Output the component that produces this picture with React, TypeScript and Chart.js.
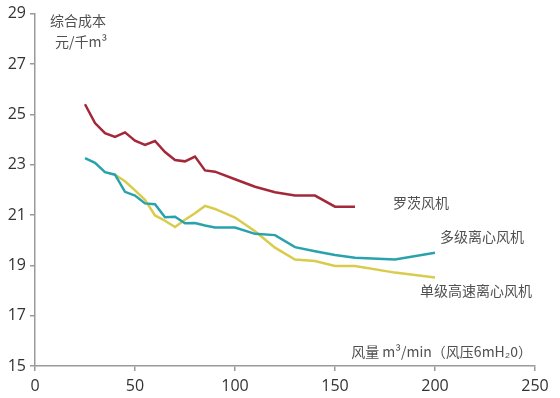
import React, { useEffect, useRef } from "react";
import { Chart, registerables } from "chart.js";

Chart.register(...registerables);

// Data
const rootsX = [25, 30, 35, 40, 45, 50, 55, 60, 65, 70, 75, 80, 85, 90, 100, 110, 120, 130, 140, 150, 160];
const rootsY = [25.4, 24.65, 24.25, 24.1, 24.28, 23.95, 23.78, 23.94, 23.5, 23.18, 23.13, 23.32, 22.77, 22.72, 22.42, 22.12, 21.9, 21.77, 21.77, 21.33, 21.33];

const multiX = [25, 30, 35, 40, 45, 50, 55, 60, 65, 70, 75, 80, 85, 90, 100, 110, 120, 130, 140, 150, 160, 180, 200];
const multiY = [23.26, 23.07, 22.7, 22.6, 21.92, 21.77, 21.46, 21.43, 20.91, 20.93, 20.67, 20.68, 20.58, 20.5, 20.5, 20.25, 20.2, 19.72, 19.56, 19.41, 19.3, 19.23, 19.5];

const singleX = [40, 45, 50, 55, 60, 65, 70, 75, 80, 85, 90, 100, 110, 120, 130, 140, 150, 160, 180, 200];
const singleY = [22.6, 22.34, 21.98, 21.6, 20.98, 20.77, 20.52, 20.81, 21.07, 21.36, 21.24, 20.9, 20.35, 19.7, 19.23, 19.17, 18.97, 18.97, 18.71, 18.52];

const seriesNames = ["罗茨风机", "多级离心风机", "单级高速离心风机"];
const xTicks = [0, 50, 100, 150, 200, 250];
const yTicks = [15, 17, 19, 21, 23, 25, 27, 29];

const yTitle1 = "综合成本";
const yTitle2 = "元/千m³";
const xTitle = "风量 m³/min（风压6mH₂0）";

// Annotation anchors in data coordinates
const labelAnchors = [
  { text: seriesNames[0], x: 179, y: 21.49 },
  { text: seriesNames[1], x: 202.5, y: 20.15 },
  { text: seriesNames[2], x: 192.5, y: 17.99 },
  { text: yTitle1, x: 7.5, y: 28.7 },
  { text: yTitle2, x: 10, y: 27.9 },
];
const xTitleAnchor = { x: 248.5, y: 15.55 };

const toPoints = (xs: number[], ys: number[]) => xs.map((x, i) => ({ x, y: ys[i] }));

const textPlugin = {
  id: "textLabels",
  afterDraw(chart: any) {
    const ctx = chart.ctx;
    const xs = chart.scales.x;
    const ys = chart.scales.y;
    ctx.save();
    ctx.fillStyle = "#505050";
    ctx.font = '14px "Noto Sans CJK SC", sans-serif';
    ctx.textBaseline = "middle";
    ctx.textAlign = "left";
    for (const a of labelAnchors) {
      ctx.fillText(a.text, xs.getPixelForValue(a.x), ys.getPixelForValue(a.y));
    }
    ctx.textAlign = "right";
    ctx.fillText(xTitle, xs.getPixelForValue(xTitleAnchor.x), ys.getPixelForValue(xTitleAnchor.y));
    ctx.restore();
  },
};

export default function App() {
  const ref = useRef<HTMLCanvasElement>(null);
  useEffect(() => {
    if (!ref.current) return;
    const chart = new Chart(ref.current, {
      type: "line",
      data: {
        datasets: [
          { label: seriesNames[0], data: toPoints(rootsX, rootsY), borderColor: "#a3283a" },
          { label: seriesNames[1], data: toPoints(multiX, multiY), borderColor: "#2aa2ae" },
          { label: seriesNames[2], data: toPoints(singleX, singleY), borderColor: "#d9cc4c" },
        ].map((d) => ({ ...d, borderWidth: 2.5, pointRadius: 0, tension: 0, fill: false })),
      },
      options: {
        animation: false,
        responsive: false,
        maintainAspectRatio: false,
        layout: { padding: { top: 10, right: 25, left: 0, bottom: 0 } },
        plugins: { legend: { display: false }, tooltip: { enabled: false } },
        scales: {
          x: {
            type: "linear",
            min: 0,
            max: 250,
            afterBuildTicks: (s: any) => { s.ticks = xTicks.map((v) => ({ value: v })); },
            afterFit: (s: any) => { s.height = 32; },
            grid: { drawOnChartArea: false, drawTicks: true, tickLength: 5, color: "#9a9a9a", lineWidth: 1.5 },
            border: { display: true, color: "#9a9a9a", width: 1.5 },
            ticks: { color: "#333", font: { size: 16, family: "Open Sans" }, padding: 6, maxRotation: 0 },
          },
          y: {
            type: "linear",
            min: 15,
            max: 29,
            afterBuildTicks: (s: any) => { s.ticks = yTicks.map((v) => ({ value: v })); },
            afterFit: (s: any) => { s.width = 35; },
            grid: { drawOnChartArea: false, drawTicks: true, tickLength: 5, color: "#9a9a9a", lineWidth: 1.5 },
            border: { display: true, color: "#9a9a9a", width: 1.5 },
            ticks: { color: "#333", font: { size: 16, family: "Open Sans" }, padding: 4 },
          },
        },
      },
      plugins: [textPlugin],
    });
    return () => chart.destroy();
  }, []);
  return (
    <div style={{ position: "absolute", left: 0, top: 0, width: 560, height: 398, background: "#fff" }}>
      <canvas ref={ref} width={560} height={398} style={{ width: 560, height: 398 }} />
    </div>
  );
}
